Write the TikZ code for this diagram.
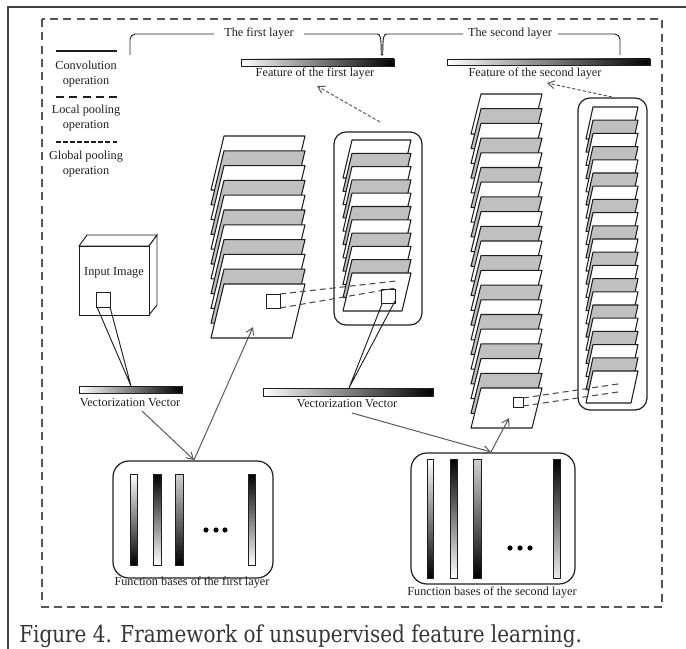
\documentclass[tikz,border=0pt]{standalone}
\usepackage{fontspec}
\setmainfont{Liberation Serif}
\newfontfamily\capfont{DejaVu Serif}
\usetikzlibrary{arrows.meta}
\definecolor{sheetgray}{HTML}{C0C0C0}
\definecolor{ink}{HTML}{1E1E1E}
\definecolor{arrowgray}{HTML}{5A5A5A}
\definecolor{framegray}{HTML}{555555}
\newcommand\drawstack[7]{%
  \foreach \k in {#7,...,0}{%
    \pgfmathsetmacro\yy{#2-\k*#6}%
    \pgfmathtruncatemacro\oddk{mod(\k,2)}%
    \ifnum\oddk=0 \def\sheetcol{white}\else\def\sheetcol{sheetgray}\fi
    \filldraw[sheet,fill=\sheetcol] (#1,\yy) -- ({#1+#3},\yy) -- ({#1+#3-#5},{\yy+#4}) -- ({#1-#5},{\yy+#4}) -- cycle;
  }%
}
\begin{document}
\begin{tikzpicture}[x=0.75pt,y=-0.75pt,
  lbl/.style={font=\fontsize{9.2pt}{10.9pt}\selectfont,text=ink,inner sep=0pt,align=center},
  sheet/.style={draw=ink,line width=0.8pt,line join=round},
  thin/.style={draw=ink,line width=0.7pt},
  legendline/.style={draw=ink,line width=1pt},
  gbar/.style={draw=ink,line width=0.7pt},
  rbox/.style={draw=ink,line width=0.9pt,rounded corners=9pt},
  fbox/.style={draw=ink,line width=0.9pt,rounded corners=12pt},
  conn/.style={draw=arrowgray,line width=0.75pt,-{Straight Barb[length=5pt,width=6pt]}},
  dconn/.style={draw=arrowgray,line width=0.75pt,dash pattern=on 2.5pt off 1.5pt,-{Straight Barb[length=5pt,width=6pt]}},
  pool/.style={draw=ink!80,line width=0.8pt,dash pattern=on 4.5pt off 3pt},
  dotb/.style={fill=black,draw=none}]
\useasboundingbox (0,0) rectangle (686,649);
% outer frame
\draw[draw=ink!85,line width=1.2pt] (8,649) -- (8,7) -- (686,7);
% dashed frame
\draw[draw=framegray,line width=1pt,dash pattern=on 6pt off 4pt] (42,19) rectangle (662,607);
% legend
\draw[legendline] (56,51) -- (117,51);
\node[lbl] (conv) at (86,74) {Convolution\\operation};
\draw[legendline,dash pattern=on 6pt off 4pt] (56,97) -- (117,97);
\node[lbl] (local) at (86,118) {Local pooling\\operation};
\draw[legendline,dash pattern=on 3.5pt off 1.8pt] (56,142) -- (117,142);
\node[lbl] (global) at (86,164) {Global pooling\\operation};
% layer braces
\node[lbl] (l1) at (259,34) {The first layer};
\node[lbl] (l2) at (510,34) {The second layer};
\draw[thin,rounded corners=4pt] (130,55) |- (214,34);
\draw[thin] (304,34) -- (377,34) .. controls (381,34) and (381,38) .. (381.3,55) -- (382.7,55) .. controls (383,38) and (383,34) .. (387,34) -- (463,34);
\draw[thin,rounded corners=4pt] (558,34) -| (620,55);
% feature bars
\shade[left color=white,right color=black] (241,59) rectangle (394,66);
\draw[gbar] (241,59) rectangle (394,66);
\node[lbl] (f1) at (315,74) {Feature of the first layer};
\shade[left color=white,right color=black] (447,59) rectangle (650,65);
\draw[gbar] (447,59) rectangle (650,65);
\node[lbl] (f2) at (535,74) {Feature of the second layer};
% input image
\draw[thin,fill=white] (79,246) -- (87,235) -- (157,235) -- (149,246) -- cycle;
\draw[thin,fill=white] (149,246) -- (157,235) -- (157,305) -- (149,315) -- cycle;
\draw[thin,fill=white] (79,246) rectangle (149,315);
\node[lbl] (inimg) at (114,273) {Input Image};
\draw[thin] (96,292) rectangle (110,307);
\coordinate (inA) at (97,307);
\coordinate (inB) at (110,307);
% vectorization vector 1
\shade[left color=white,right color=black] (79,386) rectangle (182,393);
\draw[gbar] (79,386) rectangle (182,393);
\coordinate (vv1top) at (131,386);
\node[lbl] (vv1) at (130,403) {Vectorization Vector};
\draw[thin] (inA) -- (vv1top) -- (inB);
% conv stack 1
\drawstack{224}{284}{81}{54}{13}{14.8}{10}
\draw[thin] (266,294) rectangle (280,308);
\coordinate (c1sq) at (253,327);
% pool stack 1
\draw[rbox] (334,132) rectangle (422,325);
\drawstack{352}{273}{59}{38}{9}{13.3}{10}
\draw[thin] (381,289) rectangle (395,303);
\coordinate (p1top) at (380,122);
\draw[pool] (280,294) -- (396,281);
\draw[pool] (280,308) -- (396,288);
% vectorization vector 2
\shade[left color=white,right color=black] (263,388) rectangle (433,396);
\draw[gbar] (263,388) rectangle (433,396);
\coordinate (vv2top) at (349,388);
\node[lbl] (vv2) at (347,404) {Vectorization Vector};
\draw[thin] (382,304) -- (vv2top) -- (395,301);
% conv stack 2
\drawstack{481}{388}{61}{40}{10}{14.7}{20}
\draw[thin] (513,397) rectangle (523,407);
% pool stack 2
\draw[rbox] (578,98) rectangle (647,410);
\drawstack{593}{371}{45}{32}{7}{13.2}{20}
\draw[pool] (523,398) -- (618,384);
\draw[pool] (523,406) -- (618,392);
% function bases 1
\draw[fbox] (113,461) rectangle (273,578);
\shade[top color=white,bottom color=black] (130,474) rectangle (137,565);
\draw[gbar] (130,474) rectangle (137,565);
\shade[top color=black,bottom color=white] (153,474) rectangle (161,565);
\draw[gbar] (153,474) rectangle (161,565);
\shade[top color=gray!35,bottom color=black] (175,474) rectangle (183,565);
\draw[gbar] (175,474) rectangle (183,565);
\shade[top color=black,bottom color=white] (248,474) rectangle (255,565);
\draw[gbar] (248,474) rectangle (255,565);
\fill[dotb] (206,530) circle (2.6) (216,530) circle (2.6) (225,530) circle (2.6);
\node[lbl] (fb1) at (192,583) {Function bases of the first layer};
\coordinate (fb1top) at (194,460);
% function bases 2
\draw[fbox] (411,453) rectangle (575,584);
\shade[top color=white,bottom color=black] (427,459) rectangle (433,578);
\draw[gbar] (427,459) rectangle (433,578);
\shade[top color=black,bottom color=white] (450,459) rectangle (457,578);
\draw[gbar] (450,459) rectangle (457,578);
\shade[top color=gray!35,bottom color=black] (473,459) rectangle (481,578);
\draw[gbar] (473,459) rectangle (481,578);
\shade[top color=black,bottom color=gray!15] (553,459) rectangle (560,578);
\draw[gbar] (553,459) rectangle (560,578);
\fill[dotb] (510,548) circle (2.6) (520,548) circle (2.6) (530,548) circle (2.6);
\node[lbl] (fb2) at (492,593) {Function bases of the second layer};
\coordinate (fb2top) at (491,452);
% connectors
\coordinate (vv1bot) at (142,411);
\coordinate (vv2bot) at (352,413);
\coordinate (c2sq) at (509,418);
\coordinate (p2top) at (612,97);
\coordinate (f1tip) at (317,86);
\coordinate (f2tip) at (547,83);
\draw[conn] (vv1bot) -- (fb1top);
\draw[conn] (fb1top) -- (c1sq);
\draw[conn] (vv2bot) -- (fb2top);
\draw[conn] (fb2top) -- (c2sq);
\draw[dconn] (p1top) -- (f1tip);
\draw[dconn] (p2top) -- (f2tip);
% caption
\node[anchor=base west,inner sep=0pt,text=ink!90] (cap) at (19,642) {\resizebox{422pt}{\height}{\capfont\fontsize{17.5pt}{20pt}\selectfont Figure 4. Framework of unsupervised feature learning.}};
\end{tikzpicture}
\end{document}
